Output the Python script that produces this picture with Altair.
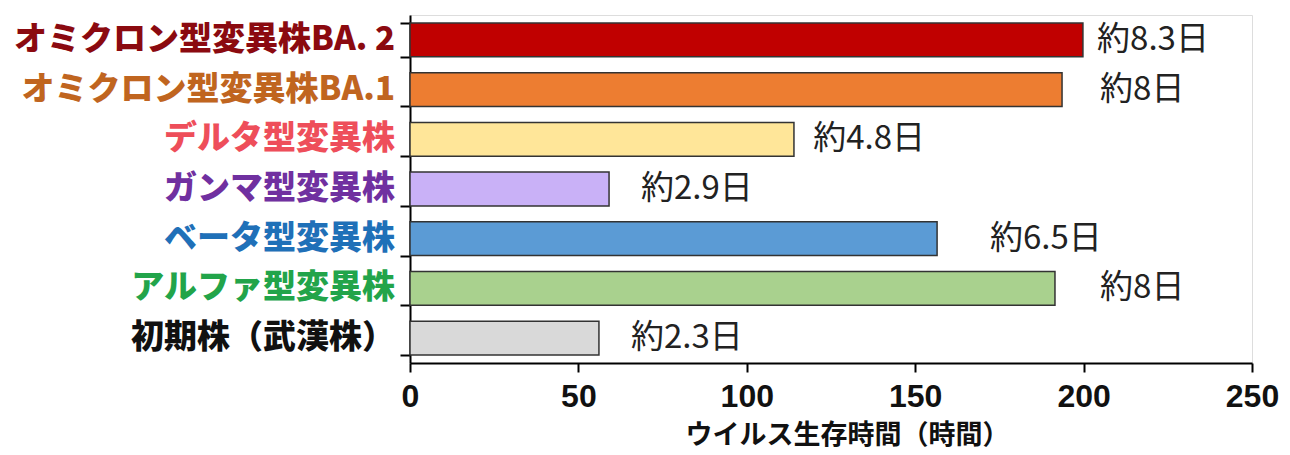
import altair as alt
import pandas as pd

strains = ["オミクロン型変異株BA. 2", "オミクロン型変異株BA.1", "デルタ型変異株", "ガンマ型変異株",
           "ベータ型変異株", "アルファ型変異株", "初期株（武漢株）"]
hours = [199.8, 193.6, 114.0, 59.1, 156.5, 191.5, 56.1]
day_labels = ["約8.3日", "約8日", "約4.8日", "約2.9日", "約6.5日", "約8日", "約2.3日"]
label_pos = [204.0, 204.9, 119.7, 68.6, 172.2, 204.9, 65.6]
bar_colors = ["#C00000", "#ED7D31", "#FFE699", "#C9B1F7", "#5B9BD5", "#A9D18E", "#D9D9D9"]
text_colors = ["#8B0A10", "#C0651F", "#EE4E5A", "#7030A0", "#1F70B8", "#22A44A", "#111111"]
x_ticks = [0, 50, 100, 150, 200, 250]

df = pd.DataFrame({"strain": strains, "hours": hours, "label": day_labels,
                   "lx": label_pos, "color": bar_colors, "tcolor": text_colors})

yenc = alt.Y("strain:N", sort=strains, title=None,
             scale=alt.Scale(paddingInner=0.32, paddingOuter=0.16),
             axis=alt.Axis(tickBand="extent", tickSize=10, tickWidth=2, tickColor="black",
                           domainColor="black", domainWidth=2, labels=False))

bars = alt.Chart(df).mark_bar(stroke="#333333", strokeWidth=1.5).encode(
    x=alt.X("hours:Q", scale=alt.Scale(domain=[0, 250], nice=False),
            title="ウイルス生存時間（時間）",
            axis=alt.Axis(values=x_ticks, grid=False, tickSize=9, tickWidth=2, tickColor="black",
                          domainColor="black", domainWidth=2, labelPadding=9,
                          labelFont="Liberation Sans", labelFontWeight="bold", labelFontSize=32,
                          labelColor="#111111", labelFlush=False,
                          titleFont="Noto Sans CJK JP", titleFontWeight="bold", titleFontSize=27,
                          titleColor="#111111", titlePadding=10, titleX=437)),
    y=yenc,
    color=alt.Color("color:N", scale=None),
)

cat_labels = alt.Chart(df).mark_text(align="right", baseline="middle", font="Noto Sans CJK JP",
                                     fontWeight=900, fontSize=33).encode(
    x=alt.value(-15),
    y=alt.Y("strain:N", sort=strains),
    text="strain:N",
    color=alt.Color("tcolor:N", scale=None),
)

texts = alt.Chart(df).mark_text(align="left", baseline="middle", font="Noto Sans CJK JP",
                                fontSize=33, color="#222222").encode(
    x=alt.X("lx:Q"),
    y=alt.Y("strain:N", sort=strains),
    text="label:N",
)

chart = alt.layer(bars, cat_labels, texts).properties(
    width=842, height=348,
    autosize=alt.AutoSizeParams(type="none"),
    padding={"left": 410, "top": 15, "right": 38, "bottom": 92},
).configure_view(stroke=None).configure(background="white")

chart.save("out.html", embed_options={"renderer": "svg", "actions": False})
